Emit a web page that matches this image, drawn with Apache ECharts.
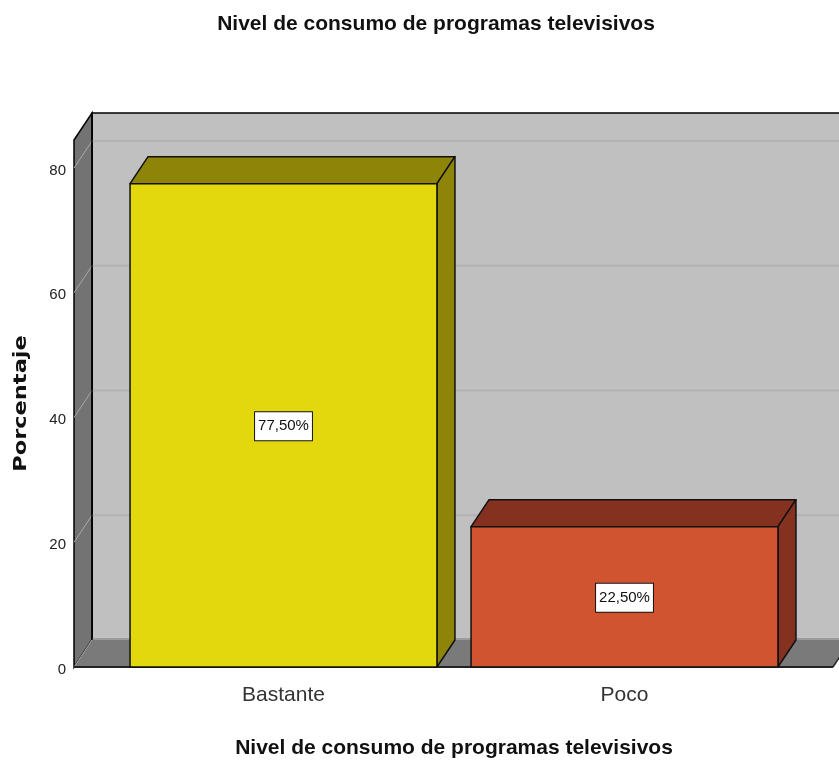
<!DOCTYPE html>
<html><head><meta charset="utf-8">
<style>html,body{margin:0;padding:0;background:#fff}#c{width:839px;height:764px}</style>
<script src="https://cdn.jsdelivr.net/npm/echarts@6/dist/echarts.min.js"></script>
</head><body><div id="c"></div>
<script>
const chartTitle = 'Nivel de consumo de programas televisivos';
const yName = 'Porcentaje';
const categories = ['Bastante', 'Poco'];
const percentages = [77.5, 22.5];
const yTicks = [0, 20, 40, 60, 80];
const faceColors = ['#e3d80e', '#d05430'];
const sideColors = ['#8e8508', '#843120'];
const depthX = 18, depthY = 27, wallLeftPad = 39, floorRightPad = 38;
const sans = '"Liberation Sans",sans-serif';

const chart = echarts.init(document.getElementById('c'), null, {renderer: 'canvas'});

function wallsItem(params, api) {
  const cs = params.coordSys;
  const L = cs.x - wallLeftPad, R = cs.x + cs.width + floorRightPad, T = cs.y, B = cs.y + cs.height;
  const line = '#000';
  const children = [
    {type: 'rect', shape: {x: L + depthX, y: T - depthY, width: R - L, height: B - T},
      style: {fill: '#c0c0c0', stroke: line, lineWidth: 1.5}},
    {type: 'polygon', shape: {points: [[L, T], [L + depthX, T - depthY], [L + depthX, B - depthY], [L, B]]},
      style: {fill: '#737373', stroke: line, lineWidth: 1.5}}
  ];
  yTicks.forEach(function (v) {
    const y = api.coord([0, v])[1];
    children.push({type: 'line', shape: {x1: L + depthX, y1: y - depthY, x2: R + depthX, y2: y - depthY},
      style: {stroke: v > 0 ? '#b2b2b2' : '#9c9c9c', lineWidth: v > 0 ? 2 : 4}});
  });
  children.push({type: 'polygon', shape: {points: [[L, B], [L + depthX, B - depthY], [R + depthX, B - depthY], [R, B]]},
    style: {fill: '#7a7a7a'}});
  yTicks.forEach(function (v) {
    const y = api.coord([0, v])[1];
    children.push({type: 'line', shape: {x1: L, y1: y, x2: L + depthX, y2: y - depthY},
      style: {stroke: '#a8a8a8', lineWidth: 1}});
  });
  children.push({type: 'line', shape: {x1: L + depthX, y1: B - depthY, x2: L + depthX, y2: T - depthY},
    style: {stroke: line, lineWidth: 1.5}});
  children.push({type: 'line', shape: {x1: L, y1: B, x2: R, y2: B}, style: {stroke: '#222', lineWidth: 2}});
  children.push({type: 'line', shape: {x1: R, y1: B, x2: R + depthX, y2: B - depthY}, style: {stroke: '#222', lineWidth: 1.5}});
  return {type: 'group', children: children};
}

function barItem(params, api) {
  const i = params.dataIndex;
  const top = api.coord([i, api.value(1)]);
  const base = api.coord([i, 0]);
  const w = api.size([1, 0])[0] * 0.9;
  const x0 = top[0] - w / 2, x1 = top[0] + w / 2, y0 = top[1], y1 = base[1];
  const s = {stroke: '#111', lineWidth: 1.5, lineJoin: 'round'};
  const label = api.value(1).toFixed(2).replace('.', ',') + '%';
  return {type: 'group', children: [
    {type: 'polygon', shape: {points: [[x0, y0], [x0 + depthX, y0 - depthY], [x1 + depthX, y0 - depthY], [x1, y0]]},
      style: Object.assign({fill: sideColors[i]}, s)},
    {type: 'polygon', shape: {points: [[x1, y0], [x1 + depthX, y0 - depthY], [x1 + depthX, y1 - depthY], [x1, y1]]},
      style: Object.assign({fill: sideColors[i]}, s)},
    {type: 'rect', shape: {x: x0, y: y0, width: w, height: y1 - y0},
      style: Object.assign({fill: faceColors[i]}, s)},
    {type: 'text', x: top[0], y: (y0 + y1) / 2 + 1, z2: 10,
      style: {text: label, fill: '#111', font: '15px ' + sans, align: 'center', verticalAlign: 'middle',
        backgroundColor: '#fff', borderColor: '#111', borderWidth: 1, padding: [7, 3, 6, 3]}}
  ]};
}

chart.setOption({
  animation: false,
  backgroundColor: '#fff',
  title: {text: chartTitle, left: 431, top: 9, textAlign: 'center',
    textStyle: {fontFamily: sans, fontSize: 21, fontWeight: 'bold', color: '#111'}},
  graphic: [{type: 'text', x: 21, y: 403.5, rotation: Math.PI / 2, scaleX: 1.25, scaleY: 1, z: 10,
    style: {text: yName, font: 'bold 18px "DejaVu Sans",sans-serif', fill: '#111', align: 'center', verticalAlign: 'middle'}}],
  grid: {left: 113, right: 44, top: 140, bottom: 97, outerBoundsMode: 'none'},
  xAxis: {type: 'category', data: categories, name: chartTitle, nameLocation: 'middle', nameGap: 71,
    nameTextStyle: {fontFamily: sans, fontSize: 21, fontWeight: 'bold', color: '#111'},
    axisLine: {show: false}, axisTick: {show: false}, splitLine: {show: false},
    axisLabel: {fontFamily: sans, fontSize: 21, color: '#333', margin: 18}},
  yAxis: {type: 'value', min: 0, max: 84.5, interval: 20, offset: 39,
    axisLine: {show: false}, axisTick: {show: false}, splitLine: {show: false},
    axisLabel: {fontFamily: sans, fontSize: 15, color: '#222', margin: 8, showMaxLabel: false,
      verticalAlign: 'top', padding: [-5, 0, 0, 0]}},
  series: [
    {type: 'custom', coordinateSystem: 'cartesian2d', clip: false, silent: true, z: 1, data: [[0, 0]], renderItem: wallsItem},
    {type: 'custom', coordinateSystem: 'cartesian2d', clip: false, z: 2,
      data: percentages.map(function (v, i) { return [i, v]; }), encode: {x: 0, y: 1}, renderItem: barItem}
  ]
});
</script></body></html>
